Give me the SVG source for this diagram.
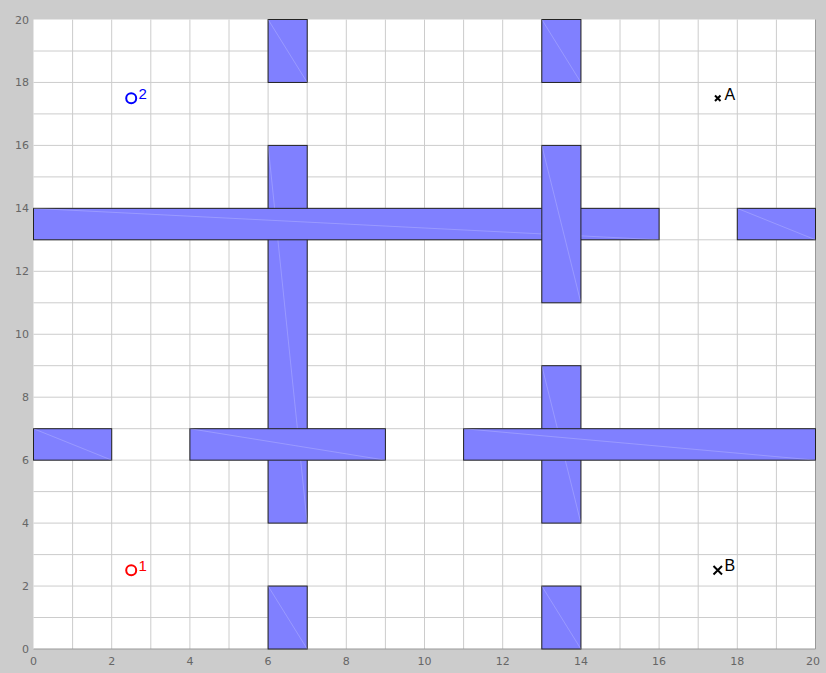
<svg xmlns="http://www.w3.org/2000/svg" width="826" height="673" viewBox="0 0 826 673">
<style>
.bg{fill:#cccccc}
.plot{fill:#ffffff}
.grid{stroke:#cccccc;stroke-width:1;fill:none}
.frame{stroke:#999999;stroke-width:1;fill:none}
.ob{fill:#8080ff;stroke:#222222;stroke-width:1}
.seam{stroke:#ffffff;stroke-opacity:0.25;stroke-width:0.8}
.tick{font-family:"DejaVu Sans",sans-serif;font-size:11px;fill:#666666}
.lbl{font-family:"Liberation Sans",Arial,sans-serif;font-size:15px}
.big{font-size:16px}
</style>
<rect class="bg" x="0" y="0" width="826" height="673"/>
<rect class="plot" x="33.5" y="19.5" width="782" height="629.5"/>
<g id="grid" class="grid">
<path d="M72.6 19.5V649M111.7 19.5V649M150.8 19.5V649M189.9 19.5V649M229 19.5V649M268.1 19.5V649M307.2 19.5V649M346.3 19.5V649M385.4 19.5V649M424.5 19.5V649M463.6 19.5V649M502.7 19.5V649M541.8 19.5V649M580.9 19.5V649M620 19.5V649M659.1 19.5V649M698.2 19.5V649M737.3 19.5V649M776.4 19.5V649"/>
<path d="M33.5 617.5H815.5M33.5 586.05H815.5M33.5 554.6H815.5M33.5 523.1H815.5M33.5 491.6H815.5M33.5 460.15H815.5M33.5 428.7H815.5M33.5 397.2H815.5M33.5 365.7H815.5M33.5 334.25H815.5M33.5 302.8H815.5M33.5 271.3H815.5M33.5 239.8H815.5M33.5 208.35H815.5M33.5 176.9H815.5M33.5 145.4H815.5M33.5 113.9H815.5M33.5 82.45H815.5M33.5 51H815.5"/>
</g>
<path class="frame" d="M33.5 649H815.5V19.5"/>
<g id="yticks" class="tick" text-anchor="end">
<text x="29" y="653">0</text>
<text x="29" y="590">2</text>
<text x="29" y="527">4</text>
<text x="29" y="464">6</text>
<text x="29" y="401">8</text>
<text x="29" y="338">10</text>
<text x="29" y="275">12</text>
<text x="29" y="212">14</text>
<text x="29" y="149">16</text>
<text x="29" y="86">18</text>
<text x="29" y="23.5">20</text>
</g>
<g id="xticks" class="tick" text-anchor="middle">
<text x="33.5" y="665">0</text>
<text x="111.7" y="665">2</text>
<text x="189.9" y="665">4</text>
<text x="268.1" y="665">6</text>
<text x="346.3" y="665">8</text>
<text x="424.5" y="665">10</text>
<text x="502.7" y="665">12</text>
<text x="580.9" y="665">14</text>
<text x="659.1" y="665">16</text>
<text x="737.3" y="665">18</text>
<text x="813" y="665">20</text>
</g>
<g id="obstacles">
<g id="v6top"><rect class="ob" x="268.1" y="19.5" width="39.1" height="62.95"/><line class="seam" x1="268.1" y1="19.5" x2="307.2" y2="82.45"/></g>
<g id="v13top"><rect class="ob" x="541.8" y="19.5" width="39.1" height="62.95"/><line class="seam" x1="541.8" y1="19.5" x2="580.9" y2="82.45"/></g>
<g id="v6mid"><rect class="ob" x="268.1" y="145.4" width="39.1" height="377.7"/><line class="seam" x1="268.1" y1="145.4" x2="307.2" y2="523.1"/></g>
<g id="h13left"><rect class="ob" x="33.5" y="208.35" width="625.6" height="31.45"/><line class="seam" x1="33.5" y1="208.35" x2="659.1" y2="239.8"/></g>
<g id="h13right"><rect class="ob" x="737.3" y="208.35" width="78.2" height="31.45"/><line class="seam" x1="737.3" y1="208.35" x2="815.5" y2="239.8"/></g>
<g id="v13upper"><rect class="ob" x="541.8" y="145.4" width="39.1" height="157.4"/><line class="seam" x1="541.8" y1="145.4" x2="580.9" y2="302.8"/></g>
<g id="v13lower"><rect class="ob" x="541.8" y="365.7" width="39.1" height="157.4"/><line class="seam" x1="541.8" y1="365.7" x2="580.9" y2="523.1"/></g>
<g id="h6a"><rect class="ob" x="33.5" y="428.7" width="78.2" height="31.45"/><line class="seam" x1="33.5" y1="428.7" x2="111.7" y2="460.15"/></g>
<g id="h6b"><rect class="ob" x="189.9" y="428.7" width="195.5" height="31.45"/><line class="seam" x1="189.9" y1="428.7" x2="385.4" y2="460.15"/></g>
<g id="h6c"><rect class="ob" x="463.6" y="428.7" width="351.9" height="31.45"/><line class="seam" x1="463.6" y1="428.7" x2="815.5" y2="460.15"/></g>
<g id="v6bot"><rect class="ob" x="268.1" y="586.05" width="39.1" height="62.95"/><line class="seam" x1="268.1" y1="586.05" x2="307.2" y2="649"/></g>
<g id="v13bot"><rect class="ob" x="541.8" y="586.05" width="39.1" height="62.95"/><line class="seam" x1="541.8" y1="586.05" x2="580.9" y2="649"/></g>
</g>
<g id="p1"><circle cx="131.2" cy="570.3" r="5" fill="none" stroke="#ff0000" stroke-width="2"/><text class="lbl" x="138.5" y="571" fill="#ff0000">1</text></g>
<g id="p2"><circle cx="131.2" cy="98.2" r="5" fill="none" stroke="#0000ff" stroke-width="2"/><text class="lbl" x="138.5" y="99" fill="#0000ff">2</text></g>
<g id="pA"><path d="M715 95.5L720.5 101M720.5 95.5L715 101" stroke="#000" stroke-width="2"/><text class="lbl big" x="724.5" y="100" fill="#000">A</text></g>
<g id="pB"><path d="M713.5 566L722 574.5M722 566L713.5 574.5" stroke="#000" stroke-width="2"/><text class="lbl big" x="724.5" y="571" fill="#000">B</text></g>
</svg>
